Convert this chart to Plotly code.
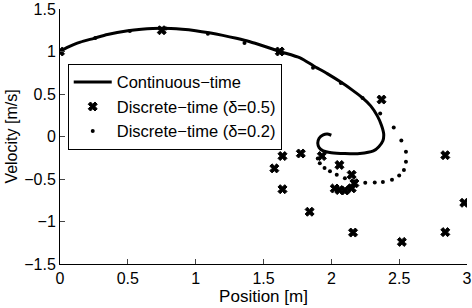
import plotly.graph_objects as go

# Continuous-time trajectory (position, velocity)
cont_x = [0.0, 0.05, 0.1, 0.15, 0.25, 0.35, 0.5, 0.6, 0.75, 0.9, 1.0, 1.1, 1.2, 1.3, 1.4, 1.5,
          1.62, 1.77, 1.87, 1.97, 2.07, 2.16, 2.23, 2.29, 2.34, 2.37, 2.386, 2.38, 2.35, 2.31,
          2.21, 2.1, 2.0, 1.94, 1.91, 1.9, 1.91, 1.94, 1.97, 2.0]
cont_v = [1.0, 1.045, 1.08, 1.11, 1.155, 1.2, 1.245, 1.262, 1.273, 1.262, 1.245, 1.22, 1.19,
          1.155, 1.115, 1.065, 1.0, 0.925, 0.83, 0.74, 0.64, 0.54, 0.454, 0.36, 0.24, 0.13,
          0.03, -0.05, -0.12, -0.17, -0.2, -0.2, -0.19, -0.17, -0.13, -0.08, -0.02, 0.02,
          0.03, 0.015]

# Discrete-time, delta = 0.5
d05_x = [0.0, 0.75, 1.62, 2.37, 2.84, 2.98, 2.84, 2.52, 2.16, 1.84, 1.64, 1.58, 1.64, 1.775,
         1.93, 2.06, 2.15, 2.17, 2.15, 2.1, 2.06, 2.025]
d05_v = [1.0, 1.25, 1.0, 0.435, -0.22, -0.78, -1.125, -1.24, -1.13, -0.885, -0.62, -0.375,
         -0.23, -0.2, -0.23, -0.335, -0.45, -0.55, -0.61, -0.635, -0.63, -0.612]

# Discrete-time, delta = 0.2
d02_x = [0.0, 0.26, 0.515, 0.78, 1.09, 1.36, 1.62, 1.865, 2.07, 2.23, 2.36, 2.46, 2.516, 2.55,
         2.55, 2.535, 2.5, 2.447, 2.38, 2.32, 2.25, 2.17, 2.1, 2.04, 1.99, 1.95, 1.915, 1.9]
d02_v = [1.0, 1.16, 1.24, 1.27, 1.21, 1.1, 1.0, 0.81, 0.63, 0.454, 0.27, 0.107, -0.046, -0.18,
         -0.297, -0.393, -0.46, -0.508, -0.535, -0.54, -0.545, -0.53, -0.49, -0.45, -0.41,
         -0.37, -0.316, -0.26]

x_ticks = [0, 0.5, 1, 1.5, 2, 2.5, 3]
y_ticks = [-1.5, -1, -0.5, 0, 0.5, 1, 1.5]

FONT = "Liberation Sans, Arial, Helvetica, sans-serif"

fig = go.Figure()
fig.add_trace(go.Scatter(x=cont_x, y=cont_v, mode="lines", name="Continuous\u2212time",
                         line=dict(color="black", width=3, shape="spline", smoothing=0.6)))
fig.add_trace(go.Scatter(x=d05_x, y=d05_v, mode="markers", name="Discrete\u2212time (\u03b4=0.5)",
                         marker=dict(symbol="x", size=8, color="black",
                                     line=dict(color="black", width=1))))
fig.add_trace(go.Scatter(x=d02_x, y=d02_v, mode="markers", name="Discrete\u2212time (\u03b4=0.2)",
                         marker=dict(symbol="circle", size=4, color="black")))

fig.update_layout(
    width=472, height=308,
    margin=dict(l=60, r=5, t=9, b=44, autoexpand=False),
    paper_bgcolor="white", plot_bgcolor="white",
    font=dict(family=FONT, size=16, color="black"),
    showlegend=True,
    legend=dict(x=0.019, y=0.785, xanchor="left", yanchor="top",
                bgcolor="white", bordercolor="black", borderwidth=1,
                font=dict(size=16.5), tracegroupgap=0, itemwidth=38),
    xaxis=dict(range=[0, 3], tickvals=x_ticks, ticks="inside", ticklen=5,
               showline=True, linecolor="black", linewidth=1, showgrid=False,
               zeroline=False, mirror=False, automargin=False,
               ticklabeloverflow="allow",
               title=dict(text="Position [m]", font=dict(size=17), standoff=2)),
    yaxis=dict(range=[-1.5, 1.5], tickvals=y_ticks, ticks="inside", ticklen=5,
               showline=True, linecolor="black", linewidth=1, showgrid=False,
               zeroline=False, mirror=False, automargin=False,
               ticklabeloverflow="allow",
               title=dict(text="Velocity [m/s]", font=dict(size=16), standoff=2)),
)

fig.write_html("out.html", config={"displayModeBar": False},
               post_script="document.body.style.margin='0';document.body.style.padding='0';")
